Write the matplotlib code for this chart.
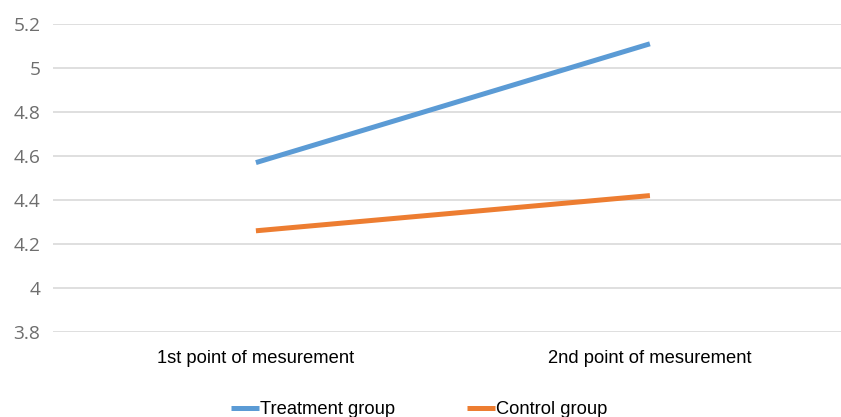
import matplotlib
matplotlib.use("Agg")
import matplotlib.pyplot as plt

categories = ["1st point of mesurement", "2nd point of mesurement"]
treatment = [4.57, 5.11]
control = [4.26, 4.42]
y_ticks = [3.8, 4.0, 4.2, 4.4, 4.6, 4.8, 5.0, 5.2]
y_tick_labels = ["3.8", "4", "4.2", "4.4", "4.6", "4.8", "5", "5.2"]

fig = plt.figure(figsize=(8.41, 4.17), dpi=100)
ax = fig.add_axes([53 / 841, 1 - 332 / 417, (841 - 53) / 841, (332 - 24) / 417])

x = range(len(categories))
ax.plot(x, treatment, color="#5B9BD5", lw=3.6, solid_capstyle="butt", label="Treatment group")
ax.plot(x, control, color="#ED7D31", lw=3.6, solid_capstyle="butt", label="Control group")

ax.set_xlim(-0.515, 1.485)
ax.set_ylim(3.8, 5.2)
ax.set_yticks(y_ticks)
ax.set_yticklabels(y_tick_labels, family="Open Sans", color="#6E6E6E", fontsize=13.8)
ax.set_xticks(list(x))
ax.set_xticklabels(categories, family="Liberation Sans", color="#000000", fontsize=13.2)
ax.tick_params(axis="both", length=0)
ax.tick_params(axis="x", pad=13)
ax.tick_params(axis="y", pad=9)
ax.grid(axis="y", color="#D9D9D9", lw=1.2)
ax.set_axisbelow(True)
for s in ax.spines.values():
    s.set_visible(False)

fig.legend(loc="center", bbox_to_anchor=(419 / 841, 1 - 410 / 417), ncol=2, frameon=False,
           prop={"family": "Liberation Sans", "size": 13.2}, handlelength=1.55,
           handletextpad=0.05, columnspacing=3.9)

fig.savefig("out.png", dpi=100)
